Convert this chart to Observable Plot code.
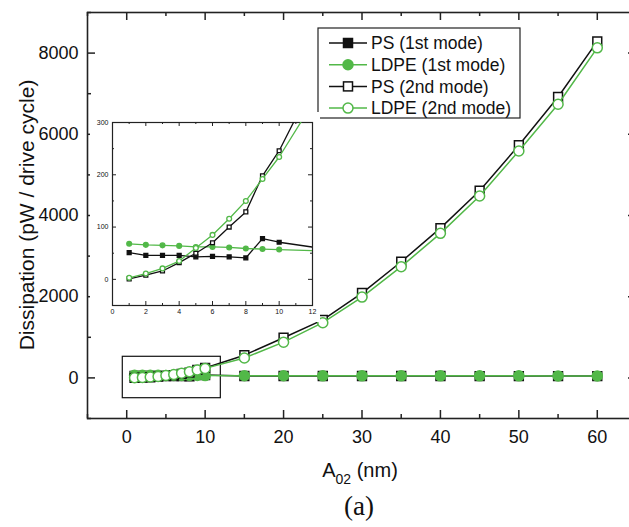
<!DOCTYPE html>
<html>
<head>
<meta charset="utf-8">
<script src="https://cdn.jsdelivr.net/npm/d3@7"></script>
<script src="https://cdn.jsdelivr.net/npm/@observablehq/plot@0.6"></script>
<style>
  html, body { margin: 0; padding: 0; background: white; overflow: hidden; }
  #wrap { position: relative; width: 629px; height: 527px; }
  #inset { position: absolute; left: 90px; top: 112px; }
</style>
</head>
<body>
<div id="wrap"><div id="main"></div><div id="inset"></div></div>
<script>
// ---- Data ----
const amplitude = [1, 2, 3, 4, 5, 6, 7, 8, 9, 10, 15, 20, 25, 30, 35, 40, 45, 50, 55, 60];
const psFirst   = [51, 46, 46, 46, 43, 44, 43, 41, 78, 71, 48, 47, 47, 46, 46, 46, 45, 45, 45, 44];
const ldpeFirst = [68, 66, 65, 64, 62, 62, 61, 59, 58, 57, 52, 52, 51, 51, 51, 50, 50, 50, 49, 49];
const psSecond  = [1, 8, 16, 32, 50, 70, 100, 129, 198, 246, 560, 990, 1430, 2090, 2860, 3690, 4610, 5730, 6920, 8290];
const ldpeSecond= [3, 11, 21, 35, 60, 85, 116, 150, 192, 234, 490, 880, 1360, 1990, 2740, 3560, 4480, 5590, 6740, 8130];

const seriesNames = ["PS (1st mode)", "LDPE (1st mode)", "PS (2nd mode)", "LDPE (2nd mode)"];
const seriesValues = [psFirst, ldpeFirst, psSecond, ldpeSecond];

const xTicksMain = [0, 10, 20, 30, 40, 50, 60];
const xMinorMain = [-5, 5, 15, 25, 35, 45, 55, 65];
const yTicksMain = [0, 2000, 4000, 6000, 8000];
const yMinorMain = [-1000, 1000, 3000, 5000, 7000, 9000];
const xTicksInset = [0, 2, 4, 6, 8, 10, 12];
const xMinorInset = [1, 3, 5, 7, 9, 11];
const yTicksInset = [0, 100, 200, 300];
const yMinorInset = [-50, 50, 150, 250];
const zoomBox = [{x1: -0.5, x2: 12, y1: -500, y2: 520}];

// ---- styles ----
const GREEN = "#52b848";
const BLACK = "#111111";
const styleOf = [
  {stroke: BLACK, symbol: "square", fill: BLACK},
  {stroke: GREEN, symbol: "circle", fill: GREEN},
  {stroke: BLACK, symbol: "square", fill: "white"},
  {stroke: GREEN, symbol: "circle", fill: "white"}
];

const rows = [];
seriesNames.forEach((name, i) => {
  amplitude.forEach((a, j) => rows.push({series: name, idx: i, x: a, y: seriesValues[i][j]}));
});

function seriesMarks(rScale, sw, clip) {
  const marks = [];
  seriesNames.forEach((name, i) => {
    const d = rows.filter(r => r.idx === i);
    const s = styleOf[i];
    marks.push(Plot.line(d, {x: "x", y: "y", stroke: s.stroke, strokeWidth: sw, clip}));
    marks.push(Plot.dot(d, {x: "x", y: "y", symbol: s.symbol, r: s.symbol === "square" ? rScale.sq : rScale.ci,
      stroke: s.stroke, strokeWidth: sw, fill: s.fill, clip}));
  });
  return marks;
}

// ---- main chart ----
const W = 629, H = 527;
const mL = 87, mR = -7, mT = 12, mB = 109;
const fw = W - mL - mR, fh = H - mT - mB;
const font = "Liberation Sans, Arial, Helvetica, sans-serif";

const main = Plot.plot({
  width: W, height: H,
  marginLeft: mL, marginRight: mR, marginTop: mT, marginBottom: mB,
  style: {fontFamily: font, background: "white", color: "#111"},
  x: {domain: [-5, 65], label: null},
  y: {domain: [-1000, 9000], label: null},
  marks: [
    Plot.frame({stroke: "#222", strokeWidth: 1.6}),
    // inward ticks on all four sides
    Plot.ruleX(xTicksMain, {x: d => d, insetTop: fh - 8, stroke: "#222", strokeWidth: 1.5}),
    Plot.ruleX(xTicksMain, {x: d => d, insetBottom: fh - 8, stroke: "#222", strokeWidth: 1.5}),
    Plot.ruleX(xMinorMain, {x: d => d, insetTop: fh - 4, stroke: "#222", strokeWidth: 1.5}),
    Plot.ruleX(xMinorMain, {x: d => d, insetBottom: fh - 4, stroke: "#222", strokeWidth: 1.5}),
    Plot.ruleY(yTicksMain, {y: d => d, insetRight: fw - 8, stroke: "#222", strokeWidth: 1.5}),
    Plot.ruleY(yTicksMain, {y: d => d, insetLeft: fw - 8, stroke: "#222", strokeWidth: 1.5}),
    Plot.ruleY(yMinorMain, {y: d => d, insetRight: fw - 4, stroke: "#222", strokeWidth: 1.5}),
    Plot.ruleY(yMinorMain, {y: d => d, insetLeft: fw - 4, stroke: "#222", strokeWidth: 1.5}),
    Plot.axisX(xTicksMain, {tickSize: 0, tickPadding: 12, fontSize: 18, label: null, tickFormat: d3.format("d")}),
    Plot.axisY(yTicksMain, {tickSize: 0, tickPadding: 9, fontSize: 18, label: null, tickFormat: d3.format("d")}),
    Plot.rect(zoomBox, {x1: "x1", x2: "x2", y1: "y1", y2: "y2", fill: "none", stroke: "#111", strokeWidth: 1.2}),
    ...seriesMarks({sq: 5, ci: 5}, 1.5, false)
  ]
});
document.getElementById("main").appendChild(main);

const svg = d3.select(main);
// y-axis title
svg.append("text")
  .attr("transform", `translate(34, ${mT + fh / 2}) rotate(-90)`)
  .attr("text-anchor", "middle")
  .attr("font-family", font).attr("font-size", 21).attr("fill", "#111")
  .text("Dissipation (pW / drive cycle)");
// x-axis title with subscript
const xt = svg.append("text")
  .attr("x", 360).attr("y", 477)
  .attr("text-anchor", "middle")
  .attr("font-family", font).attr("font-size", 20).attr("fill", "#111");
xt.append("tspan").text("A");
xt.append("tspan").attr("font-size", 14).attr("dy", 7).text("02");
xt.append("tspan").attr("dy", -7).text(" (nm)");
// panel tag
svg.append("text")
  .attr("x", 359).attr("y", 515)
  .attr("text-anchor", "middle")
  .attr("font-family", "Liberation Serif, Times New Roman, serif").attr("font-size", 27).attr("fill", "#111")
  .text("(a)");

// legend
const lg = svg.append("g").attr("font-family", font).attr("font-size", 17.5).attr("fill", "#111")
  .attr("text-anchor", "start");
lg.append("rect").attr("x", 318).attr("y", 28).attr("width", 202).attr("height", 90)
  .attr("fill", "white").attr("stroke", "#222").attr("stroke-width", 1.2);
seriesNames.forEach((name, i) => {
  const s = styleOf[i];
  const cy = 43 + i * 21.7;
  lg.append("line").attr("x1", 329).attr("x2", 367).attr("y1", cy).attr("y2", cy)
    .attr("stroke", s.stroke).attr("stroke-width", 1.5);
  if (s.symbol === "square") {
    lg.append("rect").attr("x", 348 - 4.5).attr("y", cy - 4.5).attr("width", 9).attr("height", 9)
      .attr("fill", s.fill).attr("stroke", s.stroke).attr("stroke-width", 1.5);
  } else {
    lg.append("circle").attr("cx", 348).attr("cy", cy).attr("r", 5)
      .attr("fill", s.fill).attr("stroke", s.stroke).attr("stroke-width", 1.5);
  }
  lg.append("text").attr("x", 371).attr("y", cy).attr("dy", "0.35em").attr("text-anchor", "start").text(name);
});

// ---- inset ----
const iW = 230, iH = 210, iL = 22, iR = 8, iT = 10, iB = 17;
const ifw = iW - iL - iR, ifh = iH - iT - iB;
const inset = Plot.plot({
  width: iW, height: iH,
  marginLeft: iL, marginRight: iR, marginTop: iT, marginBottom: iB,
  style: {fontFamily: font, background: "white", color: "#111"},
  x: {domain: [0, 12], label: null},
  y: {domain: [-50, 300], label: null},
  marks: [
    Plot.frame({stroke: "#222", strokeWidth: 1.2}),
    Plot.ruleX(xTicksInset, {x: d => d, insetTop: ifh - 4, stroke: "#222"}),
    Plot.ruleX(xTicksInset, {x: d => d, insetBottom: ifh - 4, stroke: "#222"}),
    Plot.ruleX(xMinorInset, {x: d => d, insetTop: ifh - 2, stroke: "#222"}),
    Plot.ruleX(xMinorInset, {x: d => d, insetBottom: ifh - 2, stroke: "#222"}),
    Plot.ruleY(yTicksInset, {y: d => d, insetRight: ifw - 4, stroke: "#222"}),
    Plot.ruleY(yTicksInset, {y: d => d, insetLeft: ifw - 4, stroke: "#222"}),
    Plot.ruleY(yMinorInset, {y: d => d, insetRight: ifw - 2, stroke: "#222"}),
    Plot.ruleY(yMinorInset, {y: d => d, insetLeft: ifw - 2, stroke: "#222"}),
    Plot.axisX(xTicksInset, {tickSize: 0, tickPadding: 4, fontSize: 7, label: null}),
    Plot.axisY(yTicksInset, {tickSize: 0, tickPadding: 4, fontSize: 7, label: null}),
    ...seriesMarks({sq: 2.2, ci: 2.4}, 1.3, true)
  ]
});
document.getElementById("inset").appendChild(inset);
</script>
</body>
</html>
